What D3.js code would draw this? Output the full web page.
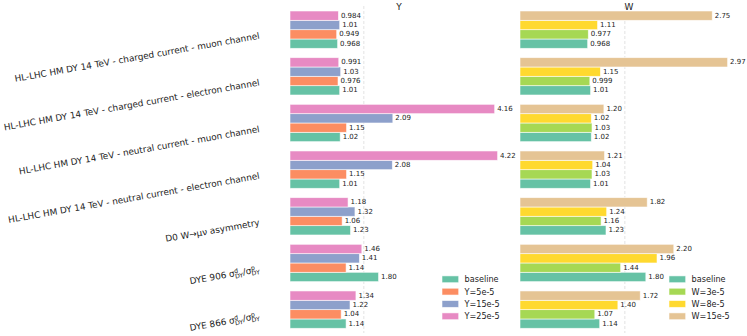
<!DOCTYPE html>
<html>
<head>
<meta charset="utf-8">
<script src="https://cdn.jsdelivr.net/npm/d3@7"></script>
<style>
  body { margin: 0; background: #fff; }
  svg { font-family: "DejaVu Sans", sans-serif; }
</style>
</head>
<body>
<svg id="chart" width="747" height="336"></svg>
<script>
var svgWidth = 747;
var svgHeight = 336;

// categories, top to bottom
var categories = [
	"HL-LHC HM DY 14 TeV - charged current - muon channel",
	"HL-LHC HM DY 14 TeV - charged current - electron channel",
	"HL-LHC HM DY 14 TeV - neutral current - muon channel",
	"HL-LHC HM DY 14 TeV - neutral current - electron channel",
	"D0 W\u2192\u03bc\u03bd asymmetry",
	"DYE 906",
	"DYE 866"
];
// categories that get the sigma ratio after the name
var ratioCats = ["DYE 906", "DYE 866"];

var baseline = [0.968, 1.01, 1.02, 1.01, 1.23, 1.80, 1.14];

var ySeriesNames = ["baseline", "Y=5e-5", "Y=15e-5", "Y=25e-5"];
var yFive    = [0.949, 0.976, 1.15, 1.15, 1.06, 1.14, 1.04];
var yFifteen = [1.01, 1.03, 2.09, 2.08, 1.32, 1.41, 1.22];
var yTwenty5 = [0.984, 0.991, 4.16, 4.22, 1.18, 1.46, 1.34];

var wSeriesNames = ["baseline", "W=3e-5", "W=8e-5", "W=15e-5"];
var wThree   = [0.977, 0.999, 1.03, 1.03, 1.16, 1.44, 1.07];
var wEight   = [1.11, 1.15, 1.02, 1.04, 1.24, 1.96, 1.40];
var wFifteen = [2.75, 2.97, 1.20, 1.21, 1.82, 2.20, 1.72];

var refLine = 1.5;

var svg = d3.select("#chart");

// shared vertical layout
var yGroup = d3.scaleBand()
	.domain(categories)
	.range([11, 328.3])
	.paddingInner(0.2)
	.paddingOuter(0);

var fmt = d3.format(".3r");

drawPanel({
	x0: 290, width: 218, title: "Y",
	names: ySeriesNames,
	series: [baseline, yFive, yFifteen, yTwenty5],
	colors: ["#66c2a5", "#fc8d62", "#8da0cb", "#e78ac3"],
	legendX: 442
});
drawPanel({
	x0: 520, width: 218, title: "W",
	names: wSeriesNames,
	series: [baseline, wThree, wEight, wFifteen],
	colors: ["#66c2a5", "#a6d854", "#ffd92f", "#e5c494"],
	legendX: 669
});

function drawPanel(cfg){
	var maxV = d3.max(cfg.series, function(s){ return d3.max(s); });
	var x = d3.scaleLinear()
		.domain([0, maxV * 1.05])
		.range([cfg.x0, cfg.x0 + cfg.width]);

	// inner band: last series on top
	var ySub = d3.scaleBand()
		.domain(d3.range(cfg.series.length).reverse())
		.range([0, yGroup.bandwidth()]);

	var g = svg.append("g");

	g.append("line")
		.attr("x1", x(refLine)).attr("x2", x(refLine))
		.attr("y1", 6).attr("y2", 333)
		.attr("stroke", "#dcdcdc")
		.attr("stroke-width", 0.8)
		.attr("stroke-dasharray", "3,2");

	g.append("text")
		.attr("x", (x.range()[0] + x.range()[1]) / 2)
		.attr("y", 9.5)
		.attr("text-anchor", "middle")
		.attr("font-size", 9)
		.attr("fill", "#222")
		.text(cfg.title);

	var rows = [];
	cfg.series.forEach(function(s, si){
		s.forEach(function(v, ci){
			rows.push({s: si, c: categories[ci], v: v});
		});
	});

	g.selectAll("rect.bar")
		.data(rows)
		.enter()
		.append("rect")
		.attr("class", "bar")
		.attr("x", x(0))
		.attr("y", function(d){ return yGroup(d.c) + ySub(d.s); })
		.attr("width", function(d){ return x(d.v) - x(0); })
		.attr("height", ySub.bandwidth())
		.attr("fill", function(d){ return cfg.colors[d.s]; })
		.attr("stroke", "#fff")
		.attr("stroke-opacity", 0.7)
		.attr("stroke-width", 0.8);

	g.selectAll("text.val")
		.data(rows)
		.enter()
		.append("text")
		.attr("class", "val")
		.attr("x", function(d){ return x(d.v) + 2.5; })
		.attr("y", function(d){ return yGroup(d.c) + ySub(d.s) + ySub.bandwidth() / 2; })
		.attr("dominant-baseline", "central")
		.attr("font-size", 7)
		.attr("fill", "#222")
		.text(function(d){ return fmt(d.v); });

	// legend
	var leg = g.selectAll("g.leg")
		.data(cfg.names)
		.enter()
		.append("g")
		.attr("class", "leg")
		.attr("transform", function(d, i){ return "translate(" + cfg.legendX + "," + (279.3 + i * 12.33) + ")"; });
	leg.append("rect")
		.attr("x", 0).attr("y", -3.4)
		.attr("width", 16.7).attr("height", 6.8)
		.attr("fill", function(d, i){ return cfg.colors[i]; })
		.attr("stroke", "#fff")
		.attr("stroke-opacity", 0.7)
		.attr("stroke-width", 0.8);
	leg.append("text")
		.attr("x", 22.6)
		.attr("y", 0)
		.attr("dominant-baseline", "central")
		.attr("font-size", 8.1)
		.attr("fill", "#222")
		.text(function(d){ return d; });
}

// category labels, rotated, right end next to the baseline bar
var labelX = 260;
categories.forEach(function(c){
	var tickY = yGroup(c) + yGroup.bandwidth() - yGroup.bandwidth() / 8;
	var lg = svg.append("g")
		.attr("transform", "translate(" + labelX + "," + (tickY - 5) + ") rotate(-10)");
	var t = lg.append("text")
		.attr("font-size", 8.9)
		.attr("fill", "#222");
	if (ratioCats.indexOf(c) >= 0) {
		var small = 6.2;
		t.append("tspan").text(c + " \u03c3");
		t.append("tspan").attr("font-size", small).attr("dy", -3.2).text("d");
		t.append("tspan").attr("font-size", small).attr("dx", -0.635 * small).attr("dy", 5.4).text("DY");
		t.append("tspan").attr("dy", -2.2).text("/\u03c3");
		t.append("tspan").attr("font-size", small).attr("dy", -3.2).text("p");
		t.append("tspan").attr("font-size", small).attr("dx", -0.635 * small).attr("dy", 5.4).text("DY");
	} else {
		t.text(c);
	}
	var bb = t.node().getBBox();
	t.attr("x", -(bb.x + bb.width));
});
</script>
</body>
</html>
